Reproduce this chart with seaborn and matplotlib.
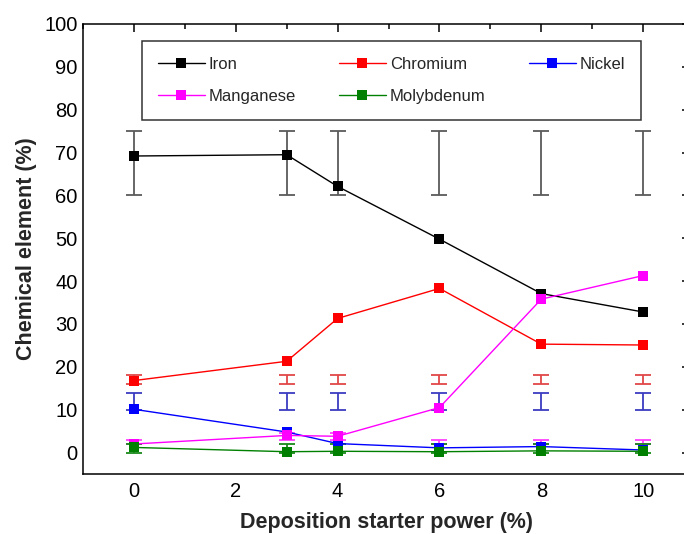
import numpy as np
import pandas as pd
import matplotlib
matplotlib.use("Agg")
import matplotlib.pyplot as plt
from matplotlib.lines import Line2D
from matplotlib.ticker import MultipleLocator
import seaborn as sns

# Deposition starter power (%)
power = [0, 3, 4, 6, 8, 10]

# Measured composition (%)
iron = [69.2, 69.5, 62.1, 49.8, 37.1, 32.8]
chromium = [16.8, 21.3, 31.3, 38.3, 25.3, 25.1]
nickel = [10.1, 4.8, 2.1, 1.1, 1.4, 0.6]
manganese = [2.0, 4.0, 3.8, 10.5, 35.8, 41.3]
molybdenum = [1.2, 0.2, 0.3, 0.2, 0.4, 0.3]

# Nominal composition ranges (%) shown as range bars
iron_lo = [60, 60, 60, 60, 60, 60]
iron_hi = [75, 75, 75, 75, 75, 75]
chromium_lo = [16, 16, 16, 16, 16, 16]
chromium_hi = [18, 18, 18, 18, 18, 18]
nickel_lo = [10, 10, 10, 10, 10, 10]
nickel_hi = [14, 14, 14, 14, 14, 14]
manganese_lo = [2, 3, 3, 2, 2, 2]
manganese_hi = [3, 4.5, 4.5, 3, 3, 3]
molybdenum_lo = [0, 0, 0, 0, 0, 0]
molybdenum_hi = [1.9, 1.9, 1.9, 1.9, 1.9, 1.9]

elements = ["Iron", "Chromium", "Nickel", "Manganese", "Molybdenum"]
values = [iron, chromium, nickel, manganese, molybdenum]
lows = [iron_lo, chromium_lo, nickel_lo, manganese_lo, molybdenum_lo]
highs = [iron_hi, chromium_hi, nickel_hi, manganese_hi, molybdenum_hi]

line_colors = {"Iron": "#000000", "Chromium": "#ff0000", "Nickel": "#0000ff",
               "Manganese": "#ff00ff", "Molybdenum": "#008000"}
bar_colors = {"Iron": "#5a5a5a", "Chromium": "#e04848", "Nickel": "#3c3cc0",
              "Manganese": "#ff40ff", "Molybdenum": "#1a8a1a"}

df = pd.DataFrame({
    "power": np.tile(power, len(elements)),
    "value": np.concatenate(values),
    "element": np.repeat(elements, len(power)),
})

sns.set_theme(style="white")
plt.rcParams["font.family"] = ["Liberation Sans", "DejaVu Sans"]

fig = plt.figure(figsize=(6.84, 5.34), dpi=100)
# right spine sits at the very edge of the canvas
ax = fig.add_axes([83 / 684, 1 - 474 / 534, (690 - 83) / 684, (474 - 24) / 534])

# Range bars behind the data lines
for el, lo, hi in zip(elements, lows, highs):
    lo = np.asarray(lo, float)
    hi = np.asarray(hi, float)
    mid = (lo + hi) / 2
    ax.errorbar(power, mid, yerr=[mid - lo, hi - mid], fmt="none",
                ecolor=bar_colors[el], elinewidth=1.3, capsize=6.0,
                capthick=1.3, zorder=1)

sns.lineplot(data=df, x="power", y="value", hue="element", hue_order=elements,
             palette=line_colors, marker="s", markersize=7, markeredgewidth=0,
             linewidth=1.0, sort=False, legend=False, ax=ax, zorder=3)

ax.set_xlim(-1, 10.92)
ax.set_ylim(-5, 100)
ax.xaxis.set_major_locator(MultipleLocator(2))
ax.xaxis.set_minor_locator(MultipleLocator(1))
ax.yaxis.set_major_locator(MultipleLocator(10))
ax.yaxis.set_minor_locator(MultipleLocator(5))
ax.tick_params(which="both", direction="in", top=True, right=True,
               colors="black", width=1.1)
ax.tick_params(which="major", length=6)
ax.tick_params(which="minor", length=3.5)
ax.tick_params(axis="x", which="major", labelsize=14.5, pad=6)
ax.tick_params(axis="y", which="major", labelsize=14.5, pad=4)
for sp in ax.spines.values():
    sp.set_color("black")
    sp.set_linewidth(1.1)
ax.spines["right"].set_visible(False)

ax.set_xlabel("Deposition starter power (%)", fontsize=15.5, fontweight="bold", labelpad=8)
ax.set_ylabel("Chemical element (%)", fontsize=15.5, fontweight="bold", labelpad=5)

# Legend filled row by row: three entries on the first row, two on the second
order = ["Iron", "Manganese", "Chromium", "Molybdenum", "Nickel"]
handles = [Line2D([], [], color=line_colors[el], marker="s", markersize=7,
                  markeredgewidth=0, linewidth=1.0) for el in order]
leg = ax.legend(handles, order, ncol=3, loc="upper left",
                bbox_to_anchor=(142 / 684, 1 - 42 / 534, (641 - 142) / 684, 0.001),
                bbox_transform=fig.transFigure, mode="expand",
                fontsize=12, frameon=True, fancybox=False, handlelength=2.8,
                handletextpad=0.25, columnspacing=1.5,
                borderpad=0.95, labelspacing=1.0, borderaxespad=0)
leg.get_frame().set_edgecolor("black")
leg.get_frame().set_linewidth(1.1)

fig.savefig("out.png", dpi=100)
